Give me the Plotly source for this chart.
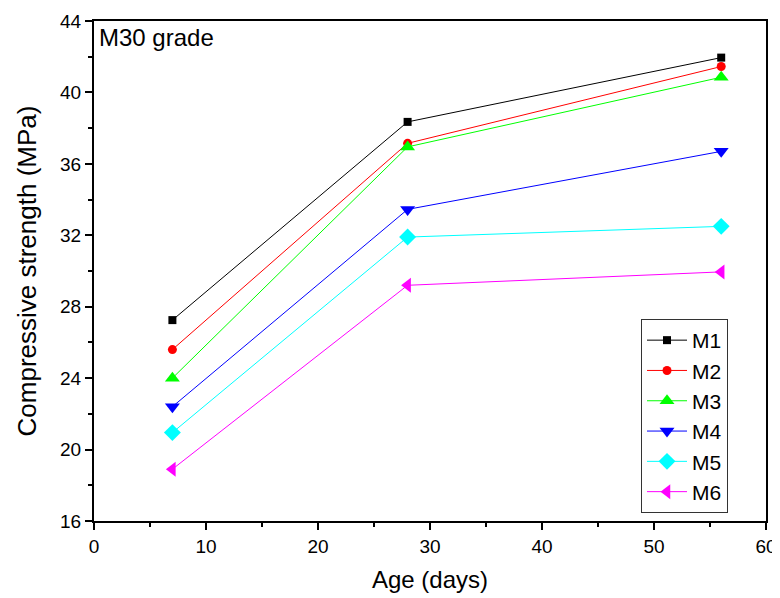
import plotly.graph_objects as go

ages = [7, 28, 56]
series_names = ["M1", "M2", "M3", "M4", "M5", "M6"]
m1 = [27.25, 38.35, 41.95]
m2 = [25.6, 37.15, 41.45]
m3 = [24.0, 36.95, 40.85]
m4 = [22.4, 33.45, 36.7]
m5 = [20.95, 31.9, 32.5]
m6 = [18.9, 29.2, 29.95]
values = [m1, m2, m3, m4, m5, m6]

colors = ["#000000", "#ff0000", "#00ff00", "#0000ff", "#00ffff", "#ff00ff"]
symbols = ["square", "circle", "triangle-up", "triangle-down", "diamond", "triangle-left"]
sizes = [8, 9, 13, 13, 13, 13]

fig = go.Figure()
for name, vals, c, s, sz in zip(series_names, values, colors, symbols, sizes):
    fig.add_trace(go.Scatter(
        x=ages, y=vals, name=name, mode="lines+markers",
        line=dict(color=c, width=1),
        marker=dict(symbol=s, size=sz, color=c, line=dict(width=0)),
    ))

font = "Liberation Sans, Arial, sans-serif"
fig.update_layout(
    width=772, height=590,
    margin=dict(l=86, r=14, t=13, b=77),
    plot_bgcolor="white", paper_bgcolor="white",
    font=dict(family=font, size=19, color="black"),
    showlegend=True,
    legend=dict(
        x=0.814, y=0.404, xanchor="left", yanchor="top",
        bgcolor="white", bordercolor="#333333", borderwidth=1,
        font=dict(size=21), tracegroupgap=0, itemwidth=40,
    ),
    xaxis=dict(
        range=[0, 60], dtick=10, tick0=0,
        ticks="outside", ticklen=7, tickwidth=1.5, tickcolor="black",
        showline=True, linecolor="black", linewidth=2, mirror=True,
        showgrid=False, zeroline=False, automargin=False,
        minor=dict(dtick=5, ticks="outside", ticklen=4, tickcolor="black", tickwidth=1.5),
        title=dict(text="Age (days)", font=dict(size=24), standoff=15),
        tickfont=dict(size=19),
    ),
    yaxis=dict(
        range=[16, 44], dtick=4, tick0=16,
        ticks="outside", ticklen=7, tickwidth=1.5, tickcolor="black",
        showline=True, linecolor="black", linewidth=2, mirror=True,
        showgrid=False, zeroline=False, automargin=False,
        minor=dict(dtick=2, ticks="outside", ticklen=4, tickcolor="black", tickwidth=1.5),
        title=dict(text="Compressive strength (MPa)", font=dict(size=26), standoff=16),
        tickfont=dict(size=19),
    ),
    annotations=[dict(
        text="M30 grade", x=0.004, y=0.998, xref="paper", yref="paper",
        xanchor="left", yanchor="top", showarrow=False, font=dict(size=24),
    )],
)

fig.write_html("out.html")
